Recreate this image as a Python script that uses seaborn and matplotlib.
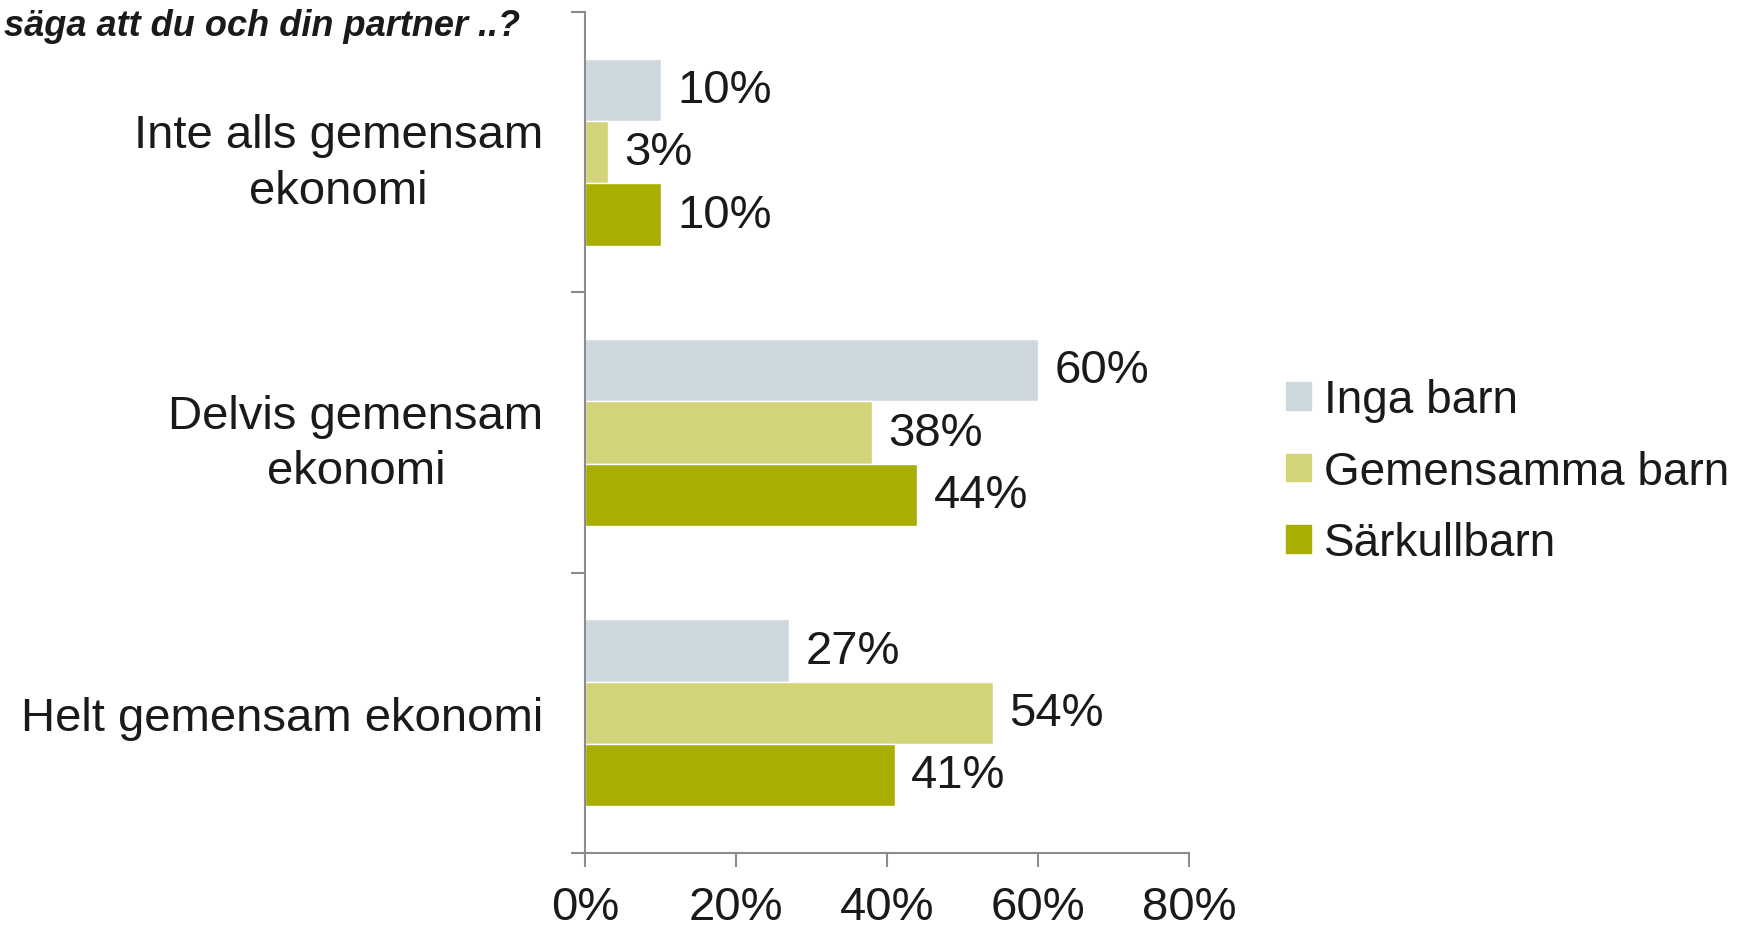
import matplotlib.pyplot as plt
import pandas as pd
import seaborn as sns

# ─── Data ─────────────────────────────────────────────────────────────────────

categories = ["Inte alls gemensam\nekonomi", "Delvis gemensam\nekonomi", "Helt gemensam ekonomi"]
groups = ["Inga barn", "Gemensamma barn", "Särkullbarn"]
inga_barn = [10, 60, 27]
gemensamma_barn = [3, 38, 54]
sarkullbarn = [10, 44, 41]
x_ticks = [0, 20, 40, 60, 80]
title_text = "säga att du och din partner ..?"

colors = ["#CDD8DE", "#D3D47A", "#A8AF00"]

df = pd.DataFrame({
    "kategori": categories * 3,
    "grupp": [g for g in groups for _ in categories],
    "andel": inga_barn + gemensamma_barn + sarkullbarn,
})

# ─── Plot ─────────────────────────────────────────────────────────────────────

sns.set_theme(style="white")
plt.rcParams["font.family"] = ["Liberation Sans", "DejaVu Sans"]
text_color = "#1a1a1a"
axis_color = "#8c8c8c"
fs = 34

fig = plt.figure(figsize=(17.5, 9.29), dpi=100)
ax = fig.add_axes([0.3343, 0.0807, 0.3451, 0.9053])

sns.barplot(
    data=df, y="kategori", x="andel", hue="grupp",
    order=categories, hue_order=groups, palette=colors,
    orient="h", width=0.667, saturation=1, ax=ax, legend=True,
)

for cont in ax.containers:
    ax.bar_label(cont, labels=[f"{v:.0f}%" for v in cont.datavalues],
                 padding=12, fontsize=fs, color=text_color)

ax.set_xlim(0, 80)
ax.set_ylim(2.5, -0.5)
ax.set_xticks(x_ticks)
ax.set_xticklabels([f"{t}%" for t in x_ticks])
ax.set_xlabel("")
ax.set_ylabel("")

sns.despine(ax=ax)
for side in ["left", "bottom"]:
    ax.spines[side].set_color(axis_color)
    ax.spines[side].set_linewidth(1.5)

ax.tick_params(axis="x", direction="out", length=10, width=1.5, color=axis_color,
               labelsize=fs, labelcolor=text_color, pad=13, bottom=True)
ax.tick_params(axis="y", which="major", length=0, labelsize=fs,
               labelcolor=text_color, pad=30)
ax.set_yticks([-0.5, 0.5, 1.5, 2.5], minor=True)
ax.tick_params(axis="y", which="minor", direction="out", length=10, width=1.5,
               color=axis_color, left=True)
for lbl in ax.get_yticklabels():
    lbl.set_multialignment("center")
    lbl.set_linespacing(1.35)

ax.get_legend().remove()
handles = [plt.Rectangle((0, 0), 1, 1, color=c) for c in colors]
fig.legend(handles, groups, loc="center left", bbox_to_anchor=(0.711, 0.491),
           frameon=False, fontsize=33, handlelength=0.55, handleheight=0.55,
           handletextpad=0.3, labelspacing=0.6, labelcolor=text_color)

fig.text(520 / 1750, 1 - 27 / 929, title_text, ha="right", va="center",
         fontsize=26, fontweight="bold", fontstyle="italic", color=text_color)

fig.savefig("out.png", dpi=100)
plt.close(fig)
